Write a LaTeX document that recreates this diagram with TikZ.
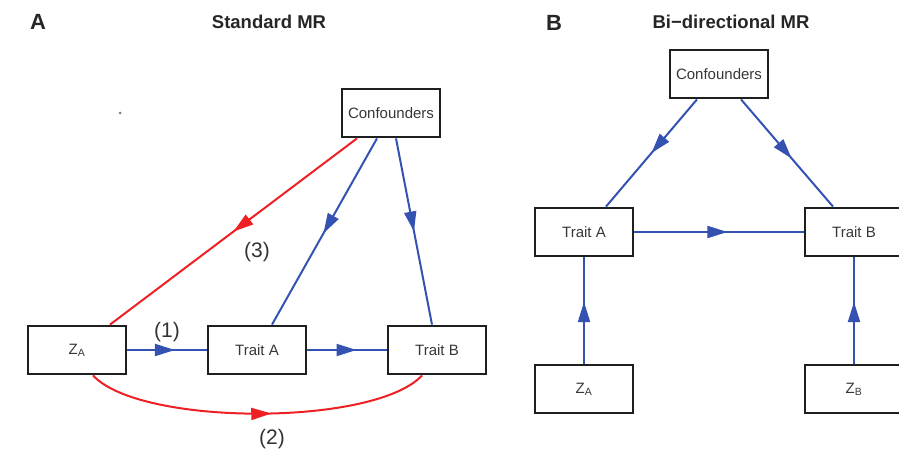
\documentclass[tikz,border=0pt]{standalone}
\usepackage{fontspec}
\setmainfont{Liberation Sans}
\usetikzlibrary{arrows.meta,decorations.markings}
\definecolor{edgeblue}{RGB}{52,82,178}
\definecolor{edgered}{RGB}{238,32,36}
\definecolor{boxtext}{RGB}{55,55,55}

\begin{document}
\begin{tikzpicture}[x=1pt,y=-1pt,
  box/.style={draw=black!88,line width=2.8pt,minimum width=98pt,minimum height=48pt,
    inner sep=0pt,text=boxtext,font=\fontsize{15}{18}\selectfont},
  link/.style={line width=2pt},
  bluelink/.style={link,draw=edgeblue},
  redlink/.style={link,draw=edgered},
  midarrow/.style={postaction={decorate},decoration={markings,
    mark=at position #1 with {\arrow{Triangle[length=20pt,width=12pt]}}}},
  panel/.style={font=\bfseries\fontsize{22}{24}\selectfont,text=black!85},
  heading/.style={font=\bfseries\fontsize{18.5}{21}\selectfont,text=black!85},
  pathlabel/.style={font=\fontsize{21}{24}\selectfont,text=black!80}]

\useasboundingbox (0,0) rectangle (899,452);

% ---------- Panel A: standard MR ----------
\node[panel] (letA) at (38,22) {A};
\node[heading] (titleA) at (269,22) {Standard MR};
\fill[gray] (120,113) circle (1.5pt);

\node[box] (confA) at (391,113) {Confounders};
\node[box] (zaA) at (77,350) {Z\textsubscript{A}};
\node[box] (traitaA) at (257,350) {Trait A};
\node[box] (traitbA) at (437,350) {Trait B};

\draw[bluelink,midarrow=0.6] (zaA.east) -- (traitaA.west);
\draw[bluelink,midarrow=0.62] (traitaA.east) -- (traitbA.west);
\draw[bluelink,midarrow=0.51] ([xshift=-14pt]confA.south) -- ([xshift=15pt]traitaA.north);
\draw[bluelink,midarrow=0.5] ([xshift=5pt]confA.south) -- ([xshift=-5pt]traitbA.north);
\draw[redlink,midarrow=0.5] ([xshift=-34pt]confA.south) -- ([xshift=33pt]zaA.north);
\draw[redlink,midarrow=0.54] ([xshift=16pt]zaA.south)
  .. controls +(47,51) and +(-47,51) .. ([xshift=-15pt]traitbA.south);

\node[pathlabel] (lab1) at (167,332) {(1)};
\node[pathlabel] (lab2) at (272,439) {(2)};
\node[pathlabel] (lab3) at (257,252) {(3)};

% ---------- Panel B: bi-directional MR ----------
\node[panel] (letB) at (554,23) {B};
\node[heading] (titleB) at (731,22) {Bi−directional MR};

\node[box] (confB) at (719,74) {Confounders};
\node[box] (traitaB) at (584,232) {Trait A};
\node[box] (traitbB) at (854,232) {Trait B};
\node[box] (zaB) at (584,389) {Z\textsubscript{A}};
\node[box] (zbB) at (854,389) {Z\textsubscript{B}};

\draw[bluelink,midarrow=0.5] ([xshift=-22pt]confB.south) -- ([xshift=22pt]traitaB.north);
\draw[bluelink,midarrow=0.55] ([xshift=22pt]confB.south) -- ([xshift=-21pt]traitbB.north);
\draw[bluelink,midarrow=0.55] (traitaB.east) -- (traitbB.west);
\draw[bluelink,midarrow=0.58] (zaB.north) -- (traitaB.south);
\draw[bluelink,midarrow=0.58] (zbB.north) -- (traitbB.south);
\end{tikzpicture}
\end{document}
